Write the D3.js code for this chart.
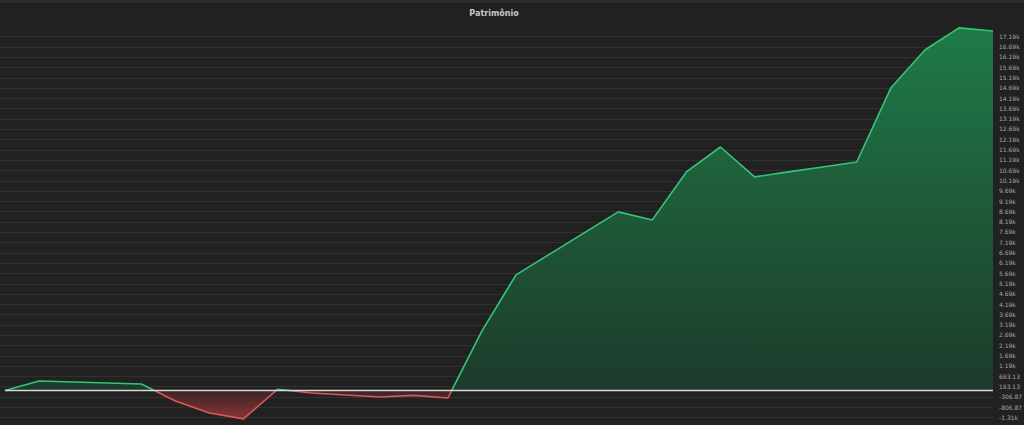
<!DOCTYPE html>
<html><head><meta charset="utf-8">
<script src="https://cdn.jsdelivr.net/npm/d3@7"></script>
<style>
html,body{margin:0;padding:0;background:#212121;overflow:hidden;}
svg{display:block;}
</style></head>
<body>
<svg id="c" width="1024" height="425"></svg>
<script>
// Data
const categories = d3.range(30).map(i => "P" + (i + 1));
const patrimonio = [0, 460, 410, 365, 315, -510, -1090, -1380, 60, -120, -220, -315, -240, -365,
  2890, 5610, 6630, 7650, 8670, 8280, 10610, 11820, 10370, 10610, 10850, 11090, 14680, 16530, 17600, 17450];
const tickValues = [-1306.87, -806.87, -306.87, 193.13, 693.13, 1193.13, 1693.13, 2193.13, 2693.13, 3193.13,
  3693.13, 4193.13, 4693.13, 5193.13, 5693.13, 6193.13, 6693.13, 7193.13, 7693.13, 8193.13, 8693.13,
  9193.13, 9693.13, 10193.13, 10693.13, 11193.13, 11693.13, 12193.13, 12693.13, 13193.13, 13693.13,
  14193.13, 14693.13, 15193.13, 15693.13, 16193.13, 16693.13, 17193.13];
const tickLabels = ["-1.31k", "-806.87", "-306.87", "193.13", "693.13", "1.19k", "1.69k", "2.19k", "2.69k", "3.19k",
  "3.69k", "4.19k", "4.69k", "5.19k", "5.69k", "6.19k", "6.69k", "7.19k", "7.69k", "8.19k", "8.69k",
  "9.19k", "9.69k", "10.19k", "10.69k", "11.19k", "11.69k", "12.19k", "12.69k", "13.19k", "13.69k",
  "14.19k", "14.69k", "15.19k", "15.69k", "16.19k", "16.69k", "17.19k"];
const title = "Patrimônio";

const svg = d3.select("#c");
const W = 1024, H = 425;
const x = d3.scalePoint().domain(categories).range([5, 993]);
const y = d3.scaleLinear().domain([-1306.87, 17193.13]).range([417.4, 36.3]);
const data = categories.map((c, i) => ({c, v: patrimonio[i]}));

// top strip
svg.append("rect").attr("x", 0).attr("y", 0).attr("width", W).attr("height", 3).attr("fill", "#2b2b2b");

const defs = svg.append("defs");
const gGreen = defs.append("linearGradient").attr("id", "gg").attr("x1", 0).attr("x2", 0).attr("y1", 0).attr("y2", 1)
  .attr("gradientUnits", "userSpaceOnUse").attr("y1", y(17600)).attr("y2", y(0));
gGreen.append("stop").attr("offset", "0").attr("stop-color", "#1f7a47");
gGreen.append("stop").attr("offset", "1").attr("stop-color", "#1d3a2b");
const gRed = defs.append("linearGradient").attr("id", "gr").attr("x1", 0).attr("x2", 0)
  .attr("gradientUnits", "userSpaceOnUse").attr("y1", y(0)).attr("y2", y(-1380));
gRed.append("stop").attr("offset", "0").attr("stop-color", "#3a2424");
gRed.append("stop").attr("offset", "1").attr("stop-color", "#8a3434");

defs.append("clipPath").attr("id", "above").append("rect")
  .attr("x", 0).attr("y", 0).attr("width", W).attr("height", y(0));
defs.append("clipPath").attr("id", "below").append("rect")
  .attr("x", 0).attr("y", y(0)).attr("width", W).attr("height", H - y(0));

// grid
const grid = svg.append("g");
grid.selectAll("line").data(tickValues).join("line")
  .attr("x1", 0).attr("x2", 993)
  .attr("y1", d => Math.round(y(d)) + 0.5).attr("y2", d => Math.round(y(d)) + 0.5)
  .attr("stroke", "#313131").attr("stroke-width", 1);

const area = d3.area().x(d => x(d.c)).y0(y(0)).y1(d => y(d.v));
const line = d3.line().x(d => x(d.c)).y(d => y(d.v));

svg.append("path").datum(data).attr("d", area).attr("fill", "url(#gg)").attr("clip-path", "url(#above)");
svg.append("path").datum(data).attr("d", area).attr("fill", "url(#gr)").attr("clip-path", "url(#below)");
svg.append("path").datum(data).attr("d", line).attr("fill", "none").attr("stroke", "#35c578")
  .attr("stroke-width", 1.6).attr("stroke-linejoin", "round").attr("clip-path", "url(#above)");
svg.append("path").datum(data).attr("d", line).attr("fill", "none").attr("stroke", "#d9585a")
  .attr("stroke-width", 1.6).attr("stroke-linejoin", "round").attr("clip-path", "url(#below)");

// zero line
svg.append("line").attr("x1", 5).attr("x2", 993).attr("y1", y(0)).attr("y2", y(0))
  .attr("stroke", "#d8d8d8").attr("stroke-width", 1.5);

// axis
const axis = d3.axisRight(y).tickValues(tickValues).tickFormat((d, i) => tickLabels[i]).tickSize(0).tickPadding(0);
const ag = svg.append("g").attr("transform", "translate(999,0)").call(axis);
ag.select(".domain").remove();
ag.selectAll("text").attr("fill", "#a8a8a8").style("font-family", "'DejaVu Sans', sans-serif").style("font-size", "6px");

// title
svg.append("text").attr("x", 494).attr("y", 16).attr("text-anchor", "middle")
  .attr("fill", "#c8c8c8").style("font-family", "'DejaVu Sans', sans-serif").style("font-size", "8px")
  .style("font-weight", "bold").text(title);
</script>
</body></html>
